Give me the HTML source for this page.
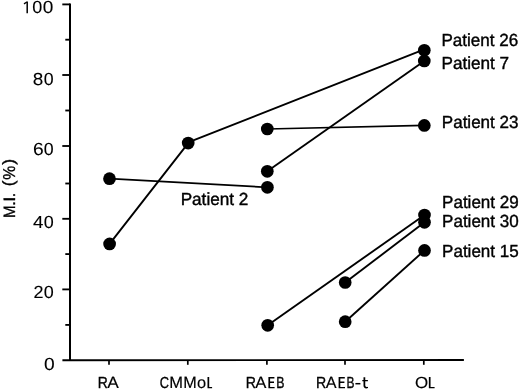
<!DOCTYPE html><html><head><meta charset="utf-8"><title>Chart</title><style>html,body{margin:0;padding:0;background:#fff;}svg{display:block;will-change:transform;}text{font-family:"Liberation Sans",sans-serif;fill:#000;text-rendering:geometricPrecision;}</style></head><body>
<svg width="520" height="391" viewBox="0 0 520 391">
<rect width="520" height="391" fill="#fff"/>
<g stroke="#000" stroke-width="2" fill="none" stroke-linecap="butt">
<path d="M70.0 3.55V360.3"/>
<path d="M62.4 360.3L463.9 360.0" stroke-width="1.9"/>
<path d="M65.3 324.9H70.0" stroke-width="1.85"/>
<path d="M62.3 289.4H70.0" stroke-width="1.85"/>
<path d="M65.3 254.1H70.0" stroke-width="1.85"/>
<path d="M62.3 218.8H70.0" stroke-width="1.85"/>
<path d="M65.3 183.5H70.0" stroke-width="1.85"/>
<path d="M62.3 146.0H70.0" stroke-width="1.85"/>
<path d="M65.3 110.5H70.0" stroke-width="1.85"/>
<path d="M62.3 75.0H70.0" stroke-width="1.85"/>
<path d="M65.3 39.7H70.0" stroke-width="1.85"/>
<path d="M62.3 4.4H70.0" stroke-width="1.85"/>
<path d="M109.0 360.3V364.8" stroke-width="1.7"/>
<path d="M187.8 360.3V364.8" stroke-width="1.7"/>
<path d="M266.9 360.3V364.8" stroke-width="1.7"/>
<path d="M345.0 360.3V364.8" stroke-width="1.7"/>
<path d="M423.8 360.3V364.8" stroke-width="1.7"/>
</g>
<g stroke="#000" stroke-width="1.9" fill="none" stroke-linejoin="round">
<polyline points="109.6,243.95 188.2,143.1 188.2,142.4 424.3,49.4"/>
<polyline points="267.3,171.3 424.3,61.0"/>
<polyline points="267.3,129.0 424.3,125.4" stroke-width="1.7"/>
<polyline points="109.5,178.7 267.4,187.3" stroke-width="1.7"/>
<polyline points="267.7,325.3 424.5,215.0"/>
<polyline points="345.2,282.5 424.5,222.3"/>
<polyline points="345.2,321.7 424.5,250.4"/>
</g>
<g fill="#000">
<circle cx="109.6" cy="243.95" r="6.35"/>
<circle cx="188.2" cy="143.1" r="6.35"/>
<circle cx="424.3" cy="50.3" r="6.35"/>
<circle cx="267.3" cy="171.3" r="6.35"/>
<circle cx="424.3" cy="61.0" r="6.35"/>
<circle cx="267.3" cy="129.0" r="6.35"/>
<circle cx="424.3" cy="125.4" r="6.35"/>
<circle cx="109.5" cy="178.7" r="6.35"/>
<circle cx="267.4" cy="187.3" r="6.35"/>
<circle cx="267.7" cy="325.3" r="6.35"/>
<circle cx="424.5" cy="215.0" r="6.35"/>
<circle cx="345.2" cy="282.5" r="6.35"/>
<circle cx="424.5" cy="222.3" r="6.35"/>
<circle cx="345.2" cy="321.7" r="6.35"/>
<circle cx="424.5" cy="250.4" r="6.35"/>
</g>
<g stroke="#000" stroke-width="0.35" style="vector-effect:non-scaling-stroke">
<text stroke-width="0.1" transform="translate(32.25,13.30) scale(1.0277,1)" font-size="17.5">0</text>
<text stroke-width="0.1" transform="translate(42.71,13.30) scale(1.0868,1)" font-size="17.5">0</text>
<text stroke-width="0.1" transform="translate(32.83,84.60) scale(1.0828,1)" font-size="17.5">8</text>
<text stroke-width="0.1" transform="translate(43.76,84.60) scale(1.0159,1)" font-size="17.5">0</text>
<text stroke-width="0.1" transform="translate(32.88,155.40) scale(1.1009,1)" font-size="17.5">6</text>
<text stroke-width="0.1" transform="translate(43.86,155.40) scale(1.0159,1)" font-size="17.5">0</text>
<text stroke-width="0.1" transform="translate(33.12,227.60) scale(1.0708,1)" font-size="17.5">4</text>
<text stroke-width="0.1" transform="translate(43.85,227.60) scale(1.0277,1)" font-size="17.5">0</text>
<text stroke-width="0.1" transform="translate(33.55,298.40) scale(1.0282,1)" font-size="17.5">2</text>
<text stroke-width="0.1" transform="translate(43.85,298.40) scale(1.0277,1)" font-size="17.5">0</text>
<text stroke-width="0.1" transform="translate(43.90,369.60) scale(1.0986,1)" font-size="17.5">0</text>
<path d="M26.45 13.3V1.4H27.95V13.3Z" fill="#000" stroke="none"/>
<path d="M24.0 3.9L26.9 1.95" fill="none" stroke="#000" stroke-width="1.3"/>
<text transform="translate(97.86,388.17) scale(0.8680,1)" font-size="16.0">R</text>
<text stroke-width="0.15" transform="translate(107.25,388.25) scale(1.0696,1)" font-size="16.2">A</text>
<text transform="translate(159.69,388.17) scale(0.8013,1)" font-size="16.0">C</text>
<text stroke-width="0.15" transform="translate(169.32,388.25) scale(1.0194,1)" font-size="16.2">M</text>
<text stroke-width="0.15" transform="translate(183.14,388.25) scale(1.0012,1)" font-size="16.2">M</text>
<text stroke-width="0.15" transform="translate(196.89,388.25) scale(1.0129,1)" font-size="16.2">o</text>
<path d="M207.5 377.0H209.2V386.90000000000003H212.1V388.35H207.5Z" fill="#000" stroke="none"/>
<text transform="translate(245.70,388.17) scale(0.8832,1)" font-size="16.0">R</text>
<text stroke-width="0.15" transform="translate(255.24,388.25) scale(1.0283,1)" font-size="16.2">A</text>
<path d="M268.4 377.0H274.40000000000003V378.45H270.09999999999997V381.60H274.0V383.05H270.09999999999997V386.90000000000003H274.6V388.35H268.4Z" fill="#000" stroke="none"/>
<text transform="translate(276.13,388.17) scale(0.7670,1)" font-size="16.0">B</text>
<text transform="translate(316.10,388.17) scale(0.8832,1)" font-size="16.0">R</text>
<text stroke-width="0.15" transform="translate(325.64,388.25) scale(1.0007,1)" font-size="16.2">A</text>
<path d="M338.6 377.0H344.8V378.45H340.3V381.60H344.4V383.05H340.3V386.90000000000003H345.0V388.35H338.6Z" fill="#000" stroke="none"/>
<text transform="translate(346.45,388.17) scale(0.7444,1)" font-size="16.0">B</text>
<path d="M355.4 382.95H360.4V384.45H355.4Z" fill="#000" stroke="none"/>
<path d="M363.50 377.3H365.25V380.0H367.90V381.35H365.25V385.5Q365.25 386.95 366.65 386.95Q367.35 386.95 368.00 386.75V388.1Q367.20 388.42 366.25 388.42Q363.50 388.42 363.50 385.6V381.35H362.30V380.0H363.50Z" fill="#000" stroke="none"/>
<text stroke-width="0.15" transform="translate(414.88,388.25) scale(1.0439,1)" font-size="16.2">O</text>
<path d="M428.85 377.0H430.55V386.90000000000003H434.6V388.35H428.85Z" fill="#000" stroke="none"/>
<g transform="translate(14.85,217.0) rotate(-90)">
<text transform="translate(-1.08,0.00) scale(0.9187,1)" font-size="16.4">M</text>
<text transform="translate(11.19,0.00) scale(0.9940,1)" font-size="16.4">.</text>
<text transform="translate(15.06,0.00) scale(1.2237,1)" font-size="16.4">I</text>
<text transform="translate(19.75,0.00) scale(0.9417,1)" font-size="16.4">.</text>
<text transform="translate(30.70,-0.90) scale(1.0642,1)" font-size="16.4">(</text>
<text transform="translate(37.30,0.00) scale(0.9086,1)" font-size="17.2">%</text>
<text transform="translate(52.29,-0.90) scale(1.0855,1)" font-size="16.4">)</text>
</g>
</g>
<text x="441.45" y="45.6" font-size="17.5" textLength="76.7" lengthAdjust="spacingAndGlyphs" stroke="#000" stroke-width="0.4">Patient 26</text>
<text x="441.45" y="69.0" font-size="17.5" textLength="67.7" lengthAdjust="spacingAndGlyphs" stroke="#000" stroke-width="0.4">Patient 7</text>
<text x="441.8" y="128.4" font-size="17.5" textLength="76.7" lengthAdjust="spacingAndGlyphs" stroke="#000" stroke-width="0.4">Patient 23</text>
<text x="442.05" y="207.6" font-size="17.5" textLength="76.7" lengthAdjust="spacingAndGlyphs" stroke="#000" stroke-width="0.4">Patient 29</text>
<text x="442.05" y="226.6" font-size="17.5" textLength="76.7" lengthAdjust="spacingAndGlyphs" stroke="#000" stroke-width="0.4">Patient 30</text>
<text x="442.05" y="256.7" font-size="17.5" textLength="76.7" lengthAdjust="spacingAndGlyphs" stroke="#000" stroke-width="0.4">Patient 15</text>
<text x="180.65" y="205.35" font-size="17.5" textLength="67.7" lengthAdjust="spacingAndGlyphs" stroke="#000" stroke-width="0.4">Patient 2</text>
</svg></body></html>
